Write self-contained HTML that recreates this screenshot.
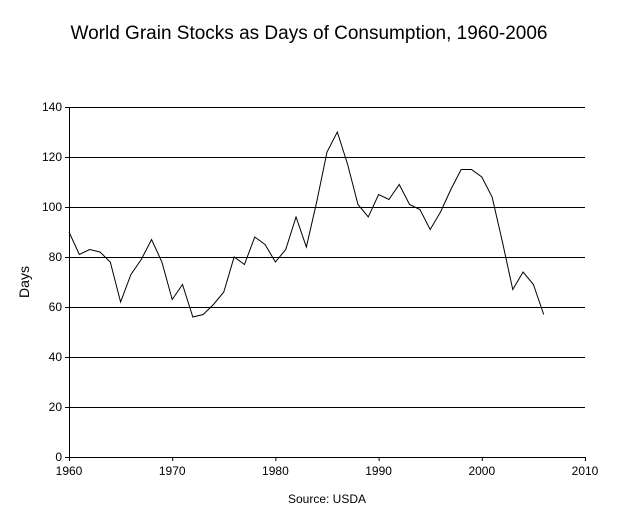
<!DOCTYPE html>
<html><head><meta charset="utf-8"><style>
body{margin:0;background:#fff;}
svg{display:block;font-family:"Liberation Sans",Arial,sans-serif;}
</style></head><body>
<svg id="chart" width="618" height="521">
<text x="309" y="39" text-anchor="middle" font-size="19">World Grain Stocks as Days of Consumption, 1960-2006</text>
<text transform="translate(29,282) rotate(-90)" text-anchor="middle" font-size="14">Days</text>
<text x="327" y="503" text-anchor="middle" font-size="12">Source: USDA</text>
<g id="grid"></g><g id="axes"></g><g id="series"></g>
</svg>
<script>
const years=[1960,1961,1962,1963,1964,1965,1966,1967,1968,1969,1970,1971,1972,1973,1974,1975,1976,1977,1978,1979,1980,1981,1982,1983,1984,1985,1986,1987,1988,1989,1990,1991,1992,1993,1994,1995,1996,1997,1998,1999,2000,2001,2002,2003,2004,2005,2006];
const days=[90,81,83,82,78,62,73,79,87,78,63,69,56,57,61,66,80,77,88,85,78,83,96,84,102,122,130,117,101,96,105,103,109,101,99,91,98,107,115,115,112,104,86,67,74,69,57];
const yTicks=[0,20,40,60,80,100,120,140];
const xTicks=[1960,1970,1980,1990,2000,2010];
const L=69,R=585,T=107,B=457;
const xs=v=>L+(v-1960)/50*(R-L);
const ys=v=>B-v/140*(B-T);
const NS="http://www.w3.org/2000/svg";
function mk(t,a,p){const e=document.createElementNS(NS,t);for(const k in a)e.setAttribute(k,a[k]);p.appendChild(e);return e;}
const g=document.getElementById('grid'),ax=document.getElementById('axes'),s=document.getElementById('series');
yTicks.forEach(v=>{
 if(v>0){const l=mk('line',{x1:L,x2:R,y1:ys(v)+0.5,y2:ys(v)+0.5,stroke:'#000','stroke-width':1},g);
 
 }
 const tk=mk('line',{x1:L-4,x2:L,y1:ys(v)+0.5,y2:ys(v)+0.5,stroke:'#000'},ax);
 
 
 const t=mk('text',{x:L-7,y:ys(v)+4,'text-anchor':'end','font-size':12},ax);t.textContent=v;
 
 
});
xTicks.forEach(v=>{
 const tk=mk('line',{x1:xs(v)+0.5,x2:xs(v)+0.5,y1:B,y2:B+4,stroke:'#000'},ax);
 
 
 const t=mk('text',{x:xs(v),y:B+18,'text-anchor':'middle','font-size':12},ax);t.textContent=v;
 
 
});
const ya=mk('line',{x1:L+0.5,x2:L+0.5,y1:T,y2:B,stroke:'#000'},ax);


const xa=mk('line',{x1:L,x2:R,y1:B+0.5,y2:B+0.5,stroke:'#000'},ax);


const pl=mk('polyline',{points:years.map((y,i)=>xs(y)+','+ys(days[i])).join(' '),fill:'none',stroke:'#000','stroke-width':1},s);


</script>
</body></html>
